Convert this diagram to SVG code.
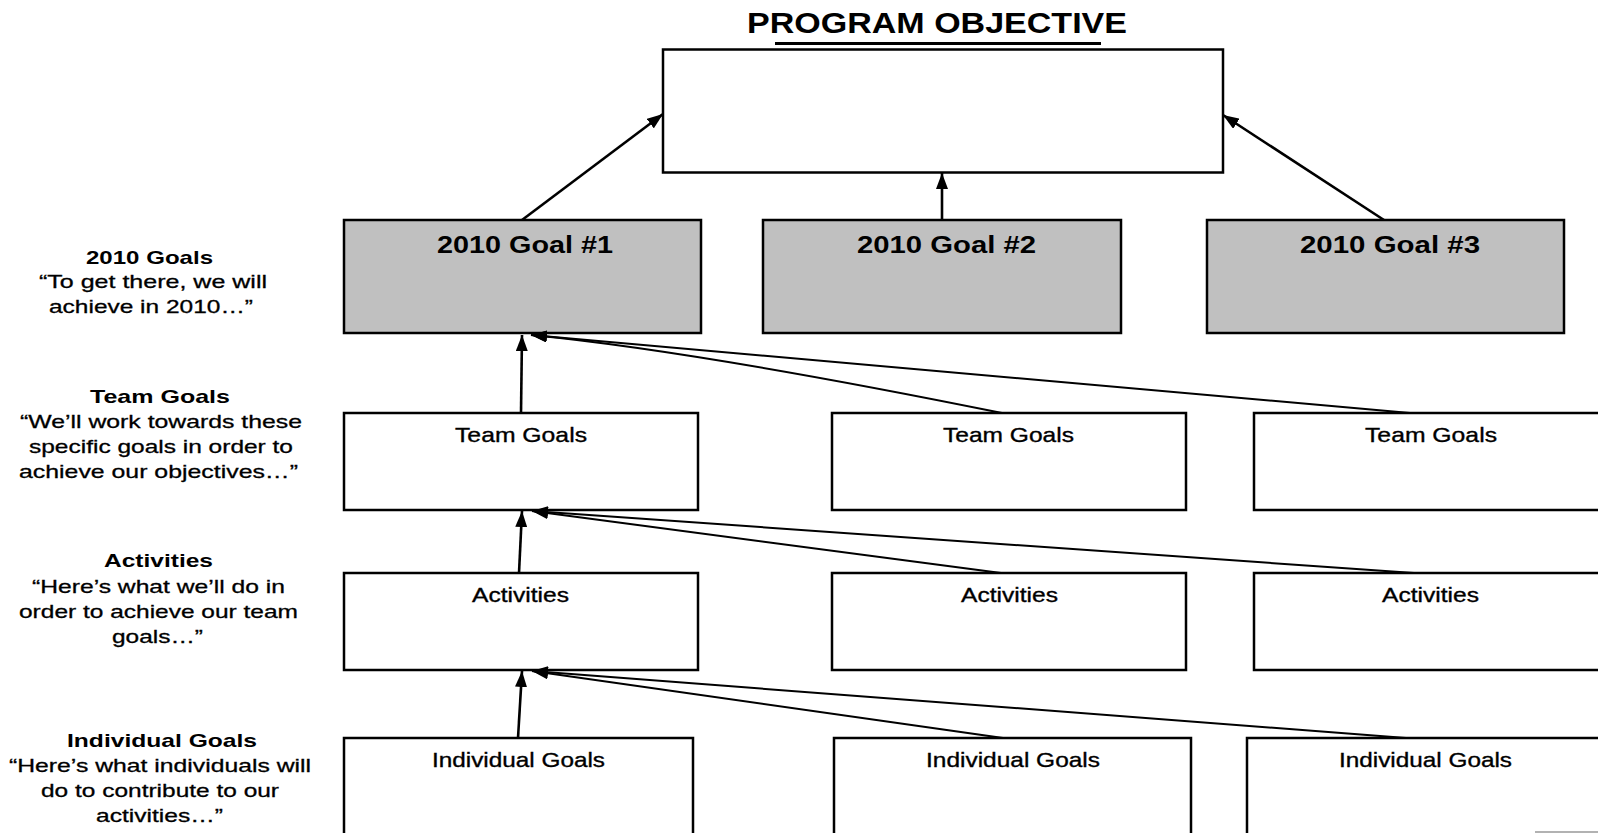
<svg xmlns="http://www.w3.org/2000/svg" width="1598" height="833" viewBox="0 0 1598 833">
<style>
text{font-family:"Liberation Sans",Arial,sans-serif;fill:#000}
.box{fill:#fff;stroke:#000;stroke-width:2.5}
.goal{fill:#c0c0c0;stroke:#000;stroke-width:2.5}
.gl{font-size:24px;font-weight:bold}
.bl{font-size:21px;stroke:#000;stroke-width:0.35}
.hd{font-size:19px;font-weight:bold}
.tx{font-size:19px;stroke:#000;stroke-width:0.3}
.c1{fill:none;stroke:#000;stroke-width:2.6}
.c2{fill:none;stroke:#000;stroke-width:2}
</style>
<defs>
<marker id="ah" viewBox="0 0 16 12" markerWidth="16" markerHeight="12" refX="16" refY="6" orient="auto" markerUnits="userSpaceOnUse">
<path d="M0,0 L16,6 L0,12 z" fill="#000"/>
</marker>
</defs>

<g id="title">
<text x="747" y="33" font-size="29" font-weight="bold" textLength="380" lengthAdjust="spacingAndGlyphs">PROGRAM OBJECTIVE</text>
<line x1="775" y1="43.5" x2="1101" y2="43.5" stroke="#000" stroke-width="3"/>
</g>

<g id="objective"><rect class="box" x="663" y="49.5" width="560" height="123"/></g>

<g id="goal1"><rect class="goal" x="344" y="220" width="357" height="113"/>
<text class="gl" x="437" y="253" textLength="176" lengthAdjust="spacingAndGlyphs">2010 Goal #1</text></g>
<g id="goal2"><rect class="goal" x="763" y="220" width="358" height="113"/>
<text class="gl" x="857" y="253" textLength="179" lengthAdjust="spacingAndGlyphs">2010 Goal #2</text></g>
<g id="goal3"><rect class="goal" x="1207" y="220" width="357" height="113"/>
<text class="gl" x="1300" y="253" textLength="180" lengthAdjust="spacingAndGlyphs">2010 Goal #3</text></g>

<g id="team1"><rect class="box" x="344" y="413" width="354" height="97"/>
<text class="bl" x="455" y="442" textLength="132" lengthAdjust="spacingAndGlyphs">Team Goals</text></g>
<g id="team2"><rect class="box" x="832" y="413" width="354" height="97"/>
<text class="bl" x="943" y="442" textLength="131" lengthAdjust="spacingAndGlyphs">Team Goals</text></g>
<g id="team3"><rect class="box" x="1254" y="413" width="360" height="97"/>
<text class="bl" x="1365" y="442" textLength="132" lengthAdjust="spacingAndGlyphs">Team Goals</text></g>

<g id="act1"><rect class="box" x="344" y="573" width="354" height="97"/>
<text class="bl" x="472" y="602" textLength="97" lengthAdjust="spacingAndGlyphs">Activities</text></g>
<g id="act2"><rect class="box" x="832" y="573" width="354" height="97"/>
<text class="bl" x="961" y="602" textLength="97" lengthAdjust="spacingAndGlyphs">Activities</text></g>
<g id="act3"><rect class="box" x="1254" y="573" width="360" height="97"/>
<text class="bl" x="1382" y="602" textLength="97" lengthAdjust="spacingAndGlyphs">Activities</text></g>

<g id="ind1"><rect class="box" x="344" y="738" width="349" height="120"/>
<text class="bl" x="432" y="767" textLength="173" lengthAdjust="spacingAndGlyphs">Individual Goals</text></g>
<g id="ind2"><rect class="box" x="834" y="738" width="357" height="120"/>
<text class="bl" x="926" y="767" textLength="174" lengthAdjust="spacingAndGlyphs">Individual Goals</text></g>
<g id="ind3"><rect class="box" x="1247" y="738" width="370" height="120"/>
<text class="bl" x="1339" y="767" textLength="173" lengthAdjust="spacingAndGlyphs">Individual Goals</text></g>

<g id="label-goals">
<text class="hd" x="86" y="264" textLength="127" lengthAdjust="spacingAndGlyphs">2010 Goals</text>
<text class="tx" x="39" y="288" textLength="228" lengthAdjust="spacingAndGlyphs">“To get there, we will</text>
<text class="tx" x="49" y="313" textLength="204" lengthAdjust="spacingAndGlyphs">achieve in 2010…”</text>
</g>
<g id="label-team">
<text class="hd" x="90" y="403" textLength="140" lengthAdjust="spacingAndGlyphs">Team Goals</text>
<text class="tx" x="20" y="428" textLength="282" lengthAdjust="spacingAndGlyphs">“We’ll work towards these</text>
<text class="tx" x="29" y="453" textLength="264" lengthAdjust="spacingAndGlyphs">specific goals in order to</text>
<text class="tx" x="19" y="478" textLength="279" lengthAdjust="spacingAndGlyphs">achieve our objectives…”</text>
</g>
<g id="label-activities">
<text class="hd" x="104" y="567" textLength="109" lengthAdjust="spacingAndGlyphs">Activities</text>
<text class="tx" x="32" y="593" textLength="253" lengthAdjust="spacingAndGlyphs">“Here’s what we’ll do in</text>
<text class="tx" x="19" y="618" textLength="279" lengthAdjust="spacingAndGlyphs">order to achieve our team</text>
<text class="tx" x="112" y="643" textLength="91" lengthAdjust="spacingAndGlyphs">goals…”</text>
</g>
<g id="label-individual">
<text class="hd" x="67" y="747" textLength="190" lengthAdjust="spacingAndGlyphs">Individual Goals</text>
<text class="tx" x="9" y="772" textLength="302" lengthAdjust="spacingAndGlyphs">“Here’s what individuals will</text>
<text class="tx" x="41" y="797" textLength="238" lengthAdjust="spacingAndGlyphs">do to contribute to our</text>
<text class="tx" x="96" y="822" textLength="127" lengthAdjust="spacingAndGlyphs">activities…”</text>
</g>

<g id="connectors">
<line class="c1" x1="522" y1="220" x2="663" y2="114" marker-end="url(#ah)"/>
<line class="c1" x1="942" y1="220" x2="942" y2="173" marker-end="url(#ah)"/>
<line class="c1" x1="1384" y1="220" x2="1223" y2="115" marker-end="url(#ah)"/>
<line class="c1" x1="521" y1="413" x2="522" y2="335" marker-end="url(#ah)"/>
<path class="c2" d="M1002,413 Q696,351 531,335" marker-end="url(#ah)"/>
<line class="c2" x1="1410" y1="413" x2="531" y2="335" marker-end="url(#ah)"/>
<line class="c1" x1="519" y1="573" x2="522" y2="511" marker-end="url(#ah)"/>
<line class="c2" x1="1001" y1="573" x2="532" y2="511" marker-end="url(#ah)"/>
<line class="c2" x1="1414" y1="573" x2="532" y2="511" marker-end="url(#ah)"/>
<line class="c1" x1="518" y1="738" x2="522" y2="671" marker-end="url(#ah)"/>
<line class="c2" x1="1003" y1="738" x2="532" y2="671" marker-end="url(#ah)"/>
<line class="c2" x1="1406" y1="738" x2="532" y2="671" marker-end="url(#ah)"/>
</g>
<line x1="1535" y1="832" x2="1598" y2="832" stroke="#999" stroke-width="1.5"/>
</svg>
